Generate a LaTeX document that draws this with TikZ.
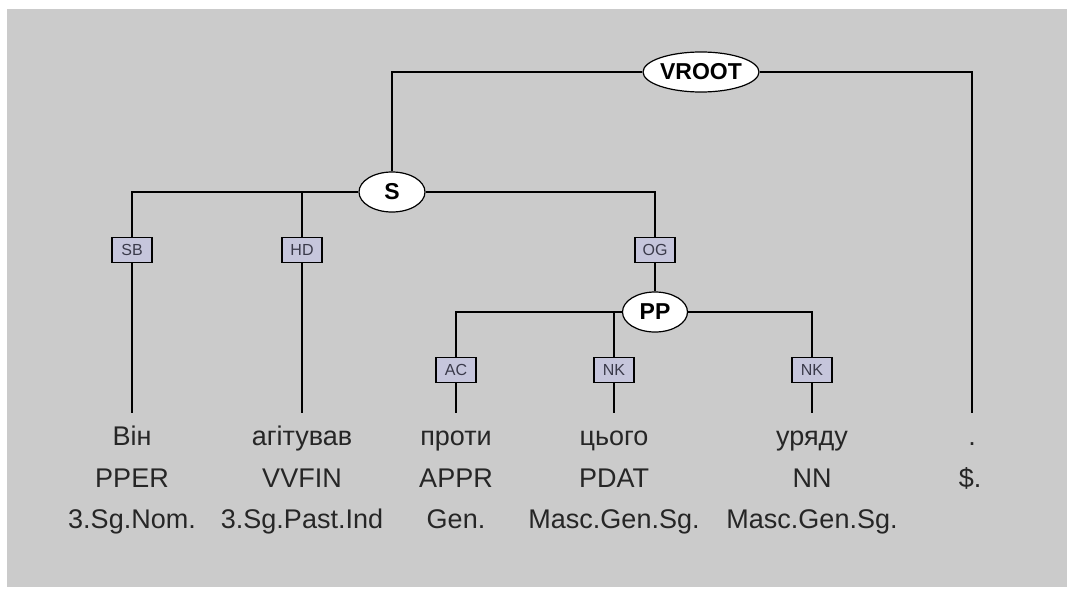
\documentclass[tikz,border=0pt]{standalone}
\usepackage{fontspec}
\setmainfont{Liberation Sans}
\usetikzlibrary{shapes.geometric}
\definecolor{bg}{HTML}{CBCBCB}
\definecolor{edgebox}{HTML}{C6C6DC}
\definecolor{edgetext}{HTML}{3A3A4A}
\tikzset{
  cat/.style={ellipse, draw=black, line width=1.2pt, fill=white, inner sep=0pt,
    font=\fontsize{23}{26}\selectfont\bfseries},
  lab/.style={draw=black, line width=1.3pt, fill=edgebox, inner sep=0pt,
    minimum width=40pt, minimum height=25pt, text=edgetext,
    font=\fontsize{16}{18}\selectfont},
  word/.style={anchor=base, inner sep=0pt, text height=32pt, text depth=0pt,
    font=\fontsize{27}{30}\selectfont, text=black!85},
  tag/.style={anchor=base, inner sep=0pt, font=\fontsize{27}{30}\selectfont, text=black!85},
  conn/.style={line width=1.5pt, black}
}
\begin{document}
\begin{tikzpicture}[x=1pt,y=-1pt]
\useasboundingbox (0,0) rectangle (1067,589);
\fill[white] (0,0) rectangle (1067,589);
\fill[bg] (7,9) rectangle (1067,587);

% phrase nodes
\node[cat, minimum width=116pt, minimum height=40pt] (VROOT) at (701,72) {VROOT};
\node[cat, minimum width=66pt, minimum height=40pt] (S) at (392,192) {S};
\node[cat, minimum width=65pt, minimum height=40pt] (PP) at (655,312) {PP};

% edge labels
\node[lab] (SB) at (132,250) {SB};
\node[lab] (HD) at (302,250) {HD};
\node[lab] (OG) at (655,250) {OG};
\node[lab] (AC) at (456,370) {AC};
\node[lab] (NK1) at (614,370) {NK};
\node[lab] (NK2) at (812,370) {NK};

% words
\node[word] (w1) at (132,445) {Він};
\node[word] (w2) at (302,445) {агітував};
\node[word] (w3) at (456,445) {проти};
\node[word] (w4) at (614,445) {цього};
\node[word] (w5) at (812,445) {уряду};
\node[word] (w6) at (972,445) {.};

\node[tag] (t1) at (132,487) {PPER};
\node[tag] (t2) at (302,487) {VVFIN};
\node[tag] (t3) at (456,487) {APPR};
\node[tag] (t4) at (614,487) {PDAT};
\node[tag] (t5) at (812,487) {NN};
\node[tag] (t6) at (970,487) {\$.};

\node[tag] (m1) at (132,528) {3.Sg.Nom.};
\node[tag] (m2) at (302,528) {3.Sg.Past.Ind};
\node[tag] (m3) at (456,528) {Gen.};
\node[tag] (m4) at (614,528) {Masc.Gen.Sg.};
\node[tag] (m5) at (812,528) {Masc.Gen.Sg.};

% connectors
\draw[conn] (S.north) |- (VROOT.west);
\draw[conn] (VROOT.east) -| (w6.north);

\draw[conn] (SB.north) |- (S.west);
\draw[conn] (HD.north) -- (HD.north |- S.west);
\draw[conn] (S.east) -| (OG.north);

\draw[conn] (SB.south) -- (w1.north);
\draw[conn] (HD.south) -- (w2.north);

\draw[conn] (OG.south) -- (PP.north);
\draw[conn] (AC.north) |- (PP.west);
\draw[conn] (NK1.north) -- (NK1.north |- PP.west);
\draw[conn] (PP.east) -| (NK2.north);

\draw[conn] (AC.south) -- (w3.north);
\draw[conn] (NK1.south) -- (w4.north);
\draw[conn] (NK2.south) -- (w5.north);
\end{tikzpicture}
\end{document}
